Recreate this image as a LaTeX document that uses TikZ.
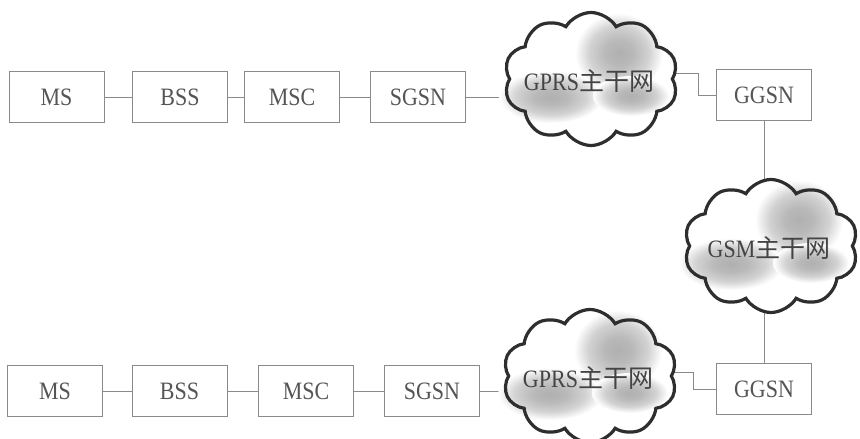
\documentclass[tikz,border=0pt]{standalone}
\usepackage{fontspec}
\setmainfont[FakeStretch=0.88]{Liberation Serif}
\newfontfamily\cjk{Noto Sans CJK SC}
\usetikzlibrary{shapes.symbols,calc}
\pgfdeclarelayer{background}
\pgfsetlayers{background,main}
\definecolor{boxline}{HTML}{8A8A8A}
\definecolor{txt}{HTML}{555555}
\definecolor{cloudline}{HTML}{2E2E2E}
% soft grey patch inside a cloud
\pgfdeclareradialshading{puff}{\pgfpoint{0bp}{0bp}}{%
  color(0bp)=(gray!62); color(8bp)=(gray!55); color(17bp)=(gray!35);
  color(25bp)=(white); color(50bp)=(white)}
\tikzset{
  unit/.style={draw=boxline, line width=0.9pt, fill=white, minimum width=95pt,
    minimum height=51pt, inner sep=0pt, text=txt, font=\fontsize{25pt}{25pt}\selectfont},
  link/.style={draw=boxline, line width=0.9pt},
  cloudbody/.style={cloud, cloud puffs=10, cloud puff arc=118, cloud ignores aspect,
    minimum width=174pt, minimum height=133pt, inner sep=0pt},
  cloudlabel/.style={text=txt!80!black, font=\fontsize{25pt}{25pt}\selectfont, inner sep=0pt},
  blob/.style={shading=puff},
}
% cloud with soft grey patches: name, centre, label
\newcommand{\netcloud}[3]{%
  \node[cloudbody, fill=white] (#1) at #2 {};
  \shade[blob] ($(#1.center)+(-40,18)$) ellipse (52 and 26);
  \shade[blob] ($(#1.center)+(28,-26)$) ellipse (44 and 40);
  \shade[blob] ($(#1.center)+(40,17)$) ellipse (38 and 20);
  \node[cloudbody, draw=cloudline, line width=3.2pt] at (#1.center) {};
  \node[cloudlabel] at ($(#1.center)+(-2,2)$) {#3};
}
\begin{document}
\begin{tikzpicture}[x=1pt, y=-1pt]
\useasboundingbox (0,0) rectangle (860,439);

% upper chain
\node[unit] (ms1)   at (56.5,97) {MS};
\node[unit] (bss1)  at (180,97)  {BSS};
\node[unit] (msc1)  at (292,97)  {MSC};
\node[unit] (sgsn1) at (418,97)  {SGSN};
\node[unit] (ggsn1) at (764,95)  {GGSN};

% lower chain
\node[unit] (ms2)   at (55,391)  {MS};
\node[unit] (bss2)  at (179.5,391) {BSS};
\node[unit] (msc2)  at (306,391) {MSC};
\node[unit] (sgsn2) at (432,391) {SGSN};
\node[unit] (ggsn2) at (764,389) {GGSN};

% backbone clouds
\netcloud{gprs1}{(591,79)}{GPRS{\cjk 主干网}}
\netcloud{gsm}{(771,246)}{GSM{\cjk 主干网}}
\netcloud{gprs2}{(590,376)}{GPRS{\cjk 主干网}}

\coordinate (bend1) at (698,73);
\coordinate (bend2) at (693,372);

\begin{pgfonlayer}{background}
  \draw[link] (ms1) -- (bss1);
  \draw[link] (bss1) -- (msc1);
  \draw[link] (msc1) -- (sgsn1);
  \draw[link] (sgsn1.east) -- (sgsn1.east -| gprs1.center);
  \draw[link] (gprs1.center |- bend1) -- (bend1) |- (ggsn1.west);
  \draw[link] (ggsn1.south) -- (ggsn2.north);
  \draw[link] (ms2) -- (bss2);
  \draw[link] (bss2) -- (msc2);
  \draw[link] (msc2) -- (sgsn2);
  \draw[link] (sgsn2.east) -- (sgsn2.east -| gprs2.center);
  \draw[link] (gprs2.center |- bend2) -- (bend2) |- (ggsn2.west);
\end{pgfonlayer}
\end{tikzpicture}
\end{document}
